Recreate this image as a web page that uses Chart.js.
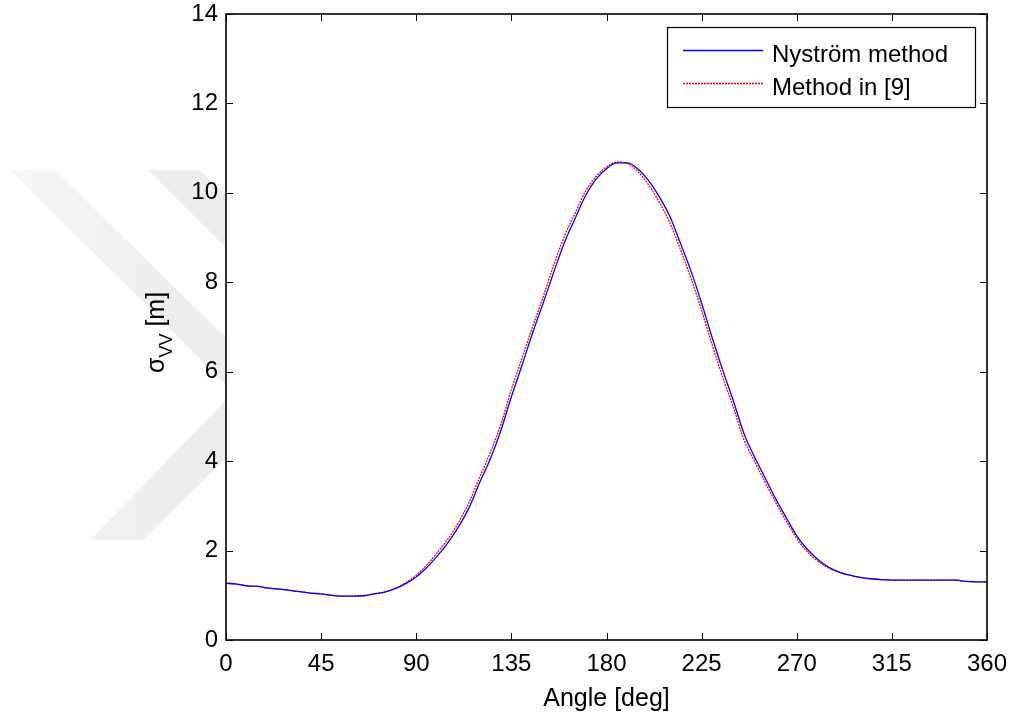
<!DOCTYPE html>
<html>
<head>
<meta charset="utf-8">
<script src="https://cdn.jsdelivr.net/npm/chart.js@4"></script>
<style>
  html, body { margin: 0; padding: 0; background: #fff; }
  #wrap { width: 1014px; height: 718px; }
</style>
</head>
<body>
<div id="wrap"><canvas id="rcs" width="1014" height="718"></canvas></div>
<script>
// ===== DATA =====
const angles = [
  0, 5, 10, 15, 20, 25, 30, 35, 40, 45, 50, 55, 60, 65, 70, 75, 80, 85, 90,
  95, 100, 105, 110, 115, 120, 125, 130, 135, 140, 145, 150, 155, 160, 165, 170, 175, 180,
  185, 190, 195, 200, 205, 210, 215, 220, 225, 230, 235, 240, 245, 250, 255, 260, 265, 270,
  275, 280, 285, 290, 295, 300, 305, 310, 315, 320, 325, 330, 335, 340, 345, 350, 355, 360
];
const nystrom = [
  1.27, 1.25, 1.21, 1.20, 1.16, 1.14, 1.11, 1.08, 1.05, 1.03, 1.00, 0.98, 0.98, 0.99, 1.03, 1.07, 1.15, 1.26, 1.41,
  1.62, 1.88, 2.18, 2.53, 2.96, 3.52, 4.05, 4.68, 5.44, 6.14, 6.86, 7.53, 8.22, 8.88, 9.41, 9.93, 10.30, 10.54,
  10.67, 10.67, 10.53, 10.27, 9.91, 9.47, 8.87, 8.25, 7.53, 6.76, 6.03, 5.35, 4.62, 4.10, 3.63, 3.16, 2.74, 2.33,
  2.03, 1.80, 1.63, 1.52, 1.45, 1.40, 1.37, 1.35, 1.34, 1.34, 1.34, 1.34, 1.34, 1.34, 1.34, 1.31, 1.30, 1.30
];
const method9 = [
  1.27, 1.25, 1.21, 1.20, 1.16, 1.14, 1.11, 1.08, 1.05, 1.03, 1.00, 0.98, 0.98, 0.99, 1.03, 1.07, 1.15, 1.28, 1.45,
  1.68, 1.96, 2.26, 2.63, 3.08, 3.64, 4.19, 4.82, 5.60, 6.30, 7.00, 7.67, 8.38, 9.02, 9.53, 10.03, 10.36, 10.58,
  10.69, 10.65, 10.47, 10.17, 9.79, 9.33, 8.73, 8.09, 7.37, 6.60, 5.87, 5.21, 4.48, 4.00, 3.53, 3.08, 2.66, 2.27,
  1.97, 1.76, 1.61, 1.52, 1.45, 1.40, 1.37, 1.35, 1.34, 1.34, 1.34, 1.34, 1.34, 1.34, 1.34, 1.31, 1.30, 1.30
];
const seriesNames = ['Nyström method', 'Method in [9]'];
const xTitle = 'Angle [deg]';

const FONT = '"Liberation Sans", Arial, Helvetica, sans-serif';

// ===== PLUGINS =====
// faint watermark behind the axes, then white axes background
const backdrop = {
  id: 'backdrop',
  beforeDraw(chart) {
    const { ctx, chartArea: a } = chart;
    ctx.save();
    ctx.fillStyle = '#fff';
    ctx.fillRect(0, 0, chart.width, chart.height);
    const g = ctx.createLinearGradient(0, 0, 226, 0);
    g.addColorStop(0, '#f8f8f8');
    g.addColorStop(0.5, '#f0f0f0');
    g.addColorStop(1, '#ececec');
    ctx.fillStyle = g;
    const polys = [
      [[10, 170], [55, 170], [226, 338], [226, 385]],
      [[148, 170], [200, 170], [226, 196], [226, 248]],
      [[226, 400], [226, 458], [143, 540], [90, 540]],
    ];
    polys.forEach(p => {
      ctx.beginPath();
      p.forEach(([x, y], i) => i ? ctx.lineTo(x, y) : ctx.moveTo(x, y));
      ctx.closePath();
      ctx.fill();
    });
    ctx.fillStyle = '#fff';
    ctx.fillRect(a.left, a.top, a.right - a.left, a.bottom - a.top);
    ctx.restore();
  }
};

// matlab style box, inward ticks, legend and y label
const matlabFrame = {
  id: 'matlabFrame',
  afterDraw(chart) {
    const { ctx, chartArea: a, scales } = chart;
    const tl = 7;
    ctx.save();
    ctx.strokeStyle = '#000';
    ctx.lineWidth = 1;
    ctx.beginPath();
    scales.x.ticks.forEach(t => {
      const px = Math.round(scales.x.getPixelForValue(t.value)) + 0.5;
      ctx.moveTo(px, a.bottom); ctx.lineTo(px, a.bottom - tl);
      ctx.moveTo(px, a.top); ctx.lineTo(px, a.top + tl);
    });
    scales.y.ticks.forEach(t => {
      const py = Math.round(scales.y.getPixelForValue(t.value)) + 0.5;
      ctx.moveTo(a.left, py); ctx.lineTo(a.left + tl, py);
      ctx.moveTo(a.right, py); ctx.lineTo(a.right - tl, py);
    });
    ctx.stroke();
    ctx.lineWidth = 1.6;
    ctx.strokeRect(a.left, a.top, a.right - a.left, a.bottom - a.top);

    // legend
    const lx = 667, ly = 27, lw = 308, lh = 80;
    ctx.fillStyle = '#fff';
    ctx.fillRect(lx, ly, lw, lh);
    ctx.lineWidth = 1.2;
    ctx.strokeRect(lx + 0.5, ly + 0.5, lw, lh);
    chart.data.datasets.forEach((ds, i) => {
      const yy = 50 + i * 33;
      ctx.beginPath();
      ctx.strokeStyle = ds.borderColor;
      ctx.lineWidth = ds.borderWidth;
      ctx.setLineDash(ds.borderDash || []);
      ctx.moveTo(683, yy + 0.5); ctx.lineTo(763, yy + 0.5);
      ctx.stroke();
      ctx.setLineDash([]);
      ctx.fillStyle = '#000';
      ctx.font = '24px ' + FONT;
      ctx.textBaseline = 'alphabetic';
      ctx.textAlign = 'left';
      ctx.fillText(ds.label, 772, yy + 12);
    });

    // y label: sigma with VV subscript
    ctx.translate(164, 373);
    ctx.rotate(-Math.PI / 2);
    ctx.fillStyle = '#000';
    ctx.textAlign = 'left';
    ctx.textBaseline = 'alphabetic';
    ctx.font = '25px ' + FONT;
    ctx.fillText('σ', 0, 0);
    let w = ctx.measureText('σ').width;
    ctx.font = '18px ' + FONT;
    ctx.fillText('VV', w, 8);
    w += ctx.measureText('VV').width;
    ctx.font = '25px ' + FONT;
    ctx.fillText(' [m]', w, 0);
    ctx.restore();
  }
};

// ===== CHART =====
const toPts = vals => angles.map((a, i) => ({ x: a, y: vals[i] }));

new Chart(document.getElementById('rcs'), {
  type: 'line',
  data: {
    datasets: [
      {
        label: seriesNames[0],
        data: toPts(nystrom),
        borderColor: '#0000ff',
        borderWidth: 1.3,
        pointRadius: 0,
        cubicInterpolationMode: 'monotone',
        fill: false,
      },
      {
        label: seriesNames[1],
        data: toPts(method9),
        borderColor: '#ff0000',
        borderWidth: 1.3,
        borderDash: [2, 1],
        pointRadius: 0,
        cubicInterpolationMode: 'monotone',
        fill: false,
      },
    ],
  },
  options: {
    responsive: false,
    animation: false,
    layout: { padding: { top: 14, right: 27, left: 0, bottom: 0 } },
    plugins: { legend: { display: false }, tooltip: { enabled: false } },
    scales: {
      x: {
        type: 'linear', min: 0, max: 360,
        grid: { display: false }, border: { display: false },
        ticks: { stepSize: 45, color: '#000', font: { family: FONT, size: 24 }, padding: 2, maxRotation: 0 },
        title: { display: true, text: xTitle, color: '#000', font: { family: FONT, size: 25 }, padding: { top: 0, bottom: 4 } },
        afterFit: s => { s.height = 78; s.paddingLeft = 0; s.paddingRight = 0; },
      },
      y: {
        min: 0, max: 14,
        grid: { display: false }, border: { display: false },
        ticks: { stepSize: 2, color: '#000', font: { family: FONT, size: 24 }, padding: 0 },
        afterFit: s => { s.width = 226; s.paddingTop = 0; s.paddingBottom = 0; },
      },
    },
  },
  plugins: [backdrop, matlabFrame],
});
</script>
</body>
</html>
